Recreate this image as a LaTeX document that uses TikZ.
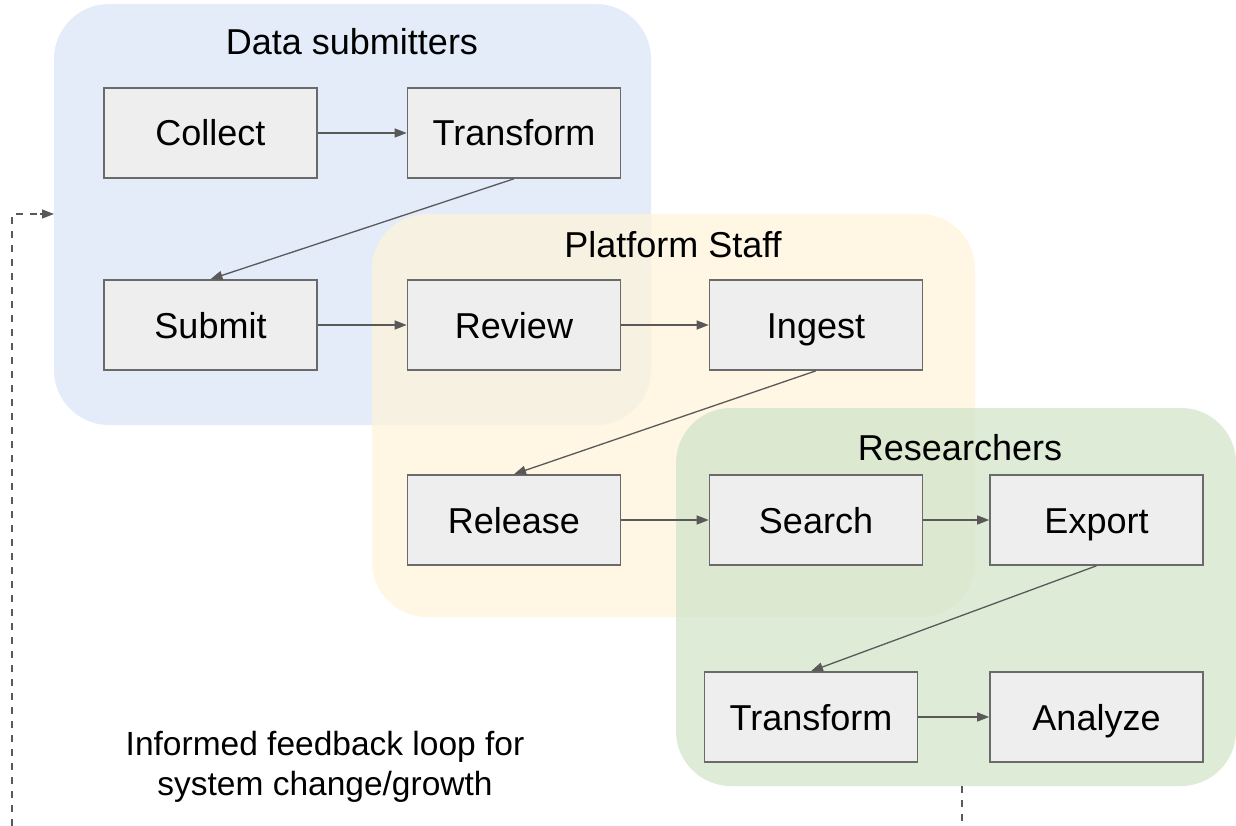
\documentclass[tikz,border=0pt]{standalone}
\usepackage{fontspec}
\setmainfont{Liberation Sans}
\usetikzlibrary{arrows.meta,positioning}

\definecolor{grpblue}{HTML}{E5ECF9}
\definecolor{grpyellow}{HTML}{FFF3DA}
\definecolor{grpgreen}{HTML}{D2E4C9}
\definecolor{boxfill}{HTML}{EEEEEE}
\definecolor{boxline}{HTML}{6A6A6A}
\definecolor{flowline}{HTML}{595959}

\tikzset{
  group/.style={rounded corners=55pt, draw=none},
  grouptitle/.style={font=\fontsize{36}{40}\selectfont, text=black, inner sep=0pt,
    text height=26pt, text depth=0pt},
  stepbox/.style={draw=boxline, line width=1.6pt, fill=boxfill,
    minimum width=213pt, minimum height=90pt, inner sep=0pt,
    text height=26pt, text depth=0pt,
    font=\fontsize{36}{40}\selectfont},
  flow/.style={draw=flowline, line width=1.3pt,
    -{Triangle[length=12pt,width=9pt]}},
  loopline/.style={draw=flowline, line width=1.3pt, dash pattern=on 7pt off 7pt},
  note/.style={font=\fontsize{33.5}{40}\selectfont, align=center, inner sep=0pt}
}

\begin{document}
\begin{tikzpicture}[x=1pt,y=-1pt]
  \useasboundingbox (0,0) rectangle (1236,826);

  % swim-lane groups
  \path[group, fill=grpblue] (54,4) rectangle (651,425);
  \path[group, fill=grpyellow, fill opacity=0.72] (372,214) rectangle (975,617);
  \path[group, fill=grpgreen, fill opacity=0.75] (676,408) rectangle (1236,786);
  \coordinate (blueW) at (54,214);
  \coordinate (greenS) at (962,786);

  % group titles
  \node[grouptitle] at (352,42) {Data submitters};
  \node[grouptitle] at (673,245) {Platform Staff};
  \node[grouptitle] at (960,447) {Researchers};

  % process steps
  \node[stepbox] (collect)   at (210.5,133) {Collect};
  \node[stepbox] (transA)    at (514,133)   {Transform};
  \node[stepbox] (submit)    at (210.5,325) {Submit};
  \node[stepbox] (review)    at (514,325)   {Review};
  \node[stepbox] (ingest)    at (816,325)   {Ingest};
  \node[stepbox] (release)   at (514,520)   {Release};
  \node[stepbox] (search)    at (816,520)   {Search};
  \node[stepbox] (export)    at (1096.5,520) {Export};
  \node[stepbox] (transB)    at (811,717)   {Transform};
  \node[stepbox] (analyze)   at (1096.5,717) {Analyze};

  % flow between steps
  \draw[flow] (collect) -- (transA);
  \draw[flow] (transA.south) -- (submit.north);
  \draw[flow] (submit) -- (review);
  \draw[flow] (review) -- (ingest);
  \draw[flow] (ingest.south) -- (release.north);
  \draw[flow] (release) -- (search);
  \draw[flow] (search) -- (export);
  \draw[flow] (export.south) -- (transB.north);
  \draw[flow] (transB) -- (analyze);

  % feedback loop
  \coordinate (loopL) at (12,826);
  \coordinate (loopR) at (962,826);
  \draw[loopline] (greenS) -- (loopR);
  \draw[loopline] (loopL) |- (blueW);
  \draw[draw=flowline, line width=1.3pt, -{Triangle[length=12pt,width=9pt]}]
    ([xshift=-14pt]blueW) -- (blueW);

  \node[note] (fbtext) at (325,767) {Informed feedback loop for\\system change/growth};
\end{tikzpicture}
\end{document}
